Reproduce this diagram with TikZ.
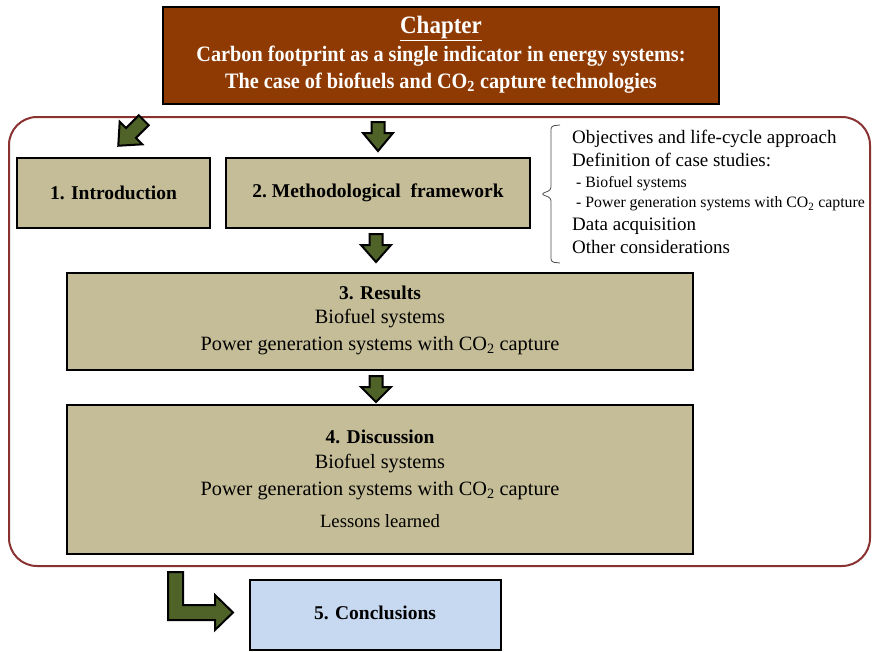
\documentclass[tikz,border=0pt]{standalone}
\usepackage{fontspec}
\setmainfont{Liberation Serif}
\newfontfamily\condfont[FakeStretch=0.92]{Liberation Serif}
\definecolor{chapbrown}{HTML}{8E3A02}
\definecolor{khaki}{HTML}{C4BD97}
\definecolor{lblue}{HTML}{C6D9F1}
\definecolor{olivearrow}{HTML}{4F6228}
\definecolor{framered}{HTML}{8A3232}
\tikzset{
  box/.style={draw=black, line width=2.2pt, fill=khaki, inner sep=0pt},
  blockarrow/.style={draw=black, line width=2pt, fill=olivearrow, line join=miter},
  txt/.style={inner sep=0pt, font=\fontsize{20.3}{23}\selectfont},
  btxt/.style={inner sep=0pt, font=\fontsize{19.5}{22}\selectfont\bfseries},
  listtxt/.style={inner sep=0pt, anchor=west, font=\fontsize{19}{21}\selectfont},
  subtxt/.style={inner sep=0pt, anchor=west, font=\fontsize{15.8}{18}\selectfont},
  titletxt/.style={inner sep=0pt, text=white, font=\fontsize{22}{25}\selectfont\condfont\bfseries}
}
\begin{document}
\begin{tikzpicture}[x=1pt,y=-1pt]
\useasboundingbox (0,0) rectangle (872,651);
% chapter box
\node[draw=black, line width=2.2pt, fill=chapbrown, minimum width=556pt, minimum height=97pt, inner sep=0pt] (chap) at (441,55.5) {};
\node[titletxt, font=\fontsize{25}{28}\selectfont\condfont\bfseries] (t1) at (441,28) {\underline{Chapter}};
\node[titletxt] (t2) at (441,56) {Carbon footprint as a single indicator in energy systems:};
\node[titletxt] (t3) at (441,83) {The case of biofuels and CO\textsubscript{2} capture technologies};
% frame
\draw[framered, line width=2pt, rounded corners=28pt] (9,117) rectangle (870,566);
\node[inner sep=0pt] (frame) at (439.5,341.5) {};
% boxes
\node[box, minimum width=193pt, minimum height=70pt] (b1) at (113.5,193) {};
\node[btxt] (l1) at (b1.center) {1. Introduction};
\node[box, minimum width=304pt, minimum height=70pt] (b2) at (378,193) {};
\node[btxt] (l2) at (b2.center) {2.\ Methodological\ \ framework};
\node[box, minimum width=626pt, minimum height=97pt] (b3) at (380,321.5) {};
\node[btxt] (l3a) at (380,293) {3. Results};
\node[txt] (l3b) at (380,319) {Biofuel systems};
\node[txt] (l3c) at (380,346) {Power generation systems with CO\textsubscript{2} capture};
\node[box, minimum width=626pt, minimum height=149pt] (b4) at (380,479.5) {};
\node[btxt] (l4a) at (380,437) {4. Discussion};
\node[txt] (l4b) at (380,464) {Biofuel systems};
\node[txt] (l4c) at (380,491) {Power generation systems with CO\textsubscript{2} capture};
\node[txt, font=\fontsize{18.7}{21}\selectfont] (l4d) at (380,521) {Lessons learned};
\node[box, fill=lblue, minimum width=251pt, minimum height=70pt] (b5) at (375.5,615) {};
\node[btxt] (l5) at (375,613) {5. Conclusions};
% brace and list
\draw[black!70, line width=0.8pt, rounded corners=3pt] (560,125) -- (551,126) -- (551,190) -- (541,194) -- (551,198) -- (551,262) -- (560,263);
\coordinate (bracetip) at (541,194);
\node[listtxt] (i1) at (572,139) {Objectives and life-cycle approach};
\node[listtxt] (i2) at (572,160) {Definition of case studies:};
\node[subtxt] (i3) at (576,184) {- Biofuel systems};
\node[subtxt] (i4) at (576,204) {- Power generation systems with CO\textsubscript{2} capture};
\node[listtxt] (i5) at (572,226) {Data acquisition};
\node[listtxt] (i6) at (572,247) {Other considerations};
% down arrows
\foreach \cx/\yt/\yh/\yb in {378/122/133/151, 376/234/245/262, 376/376/387/402}{
  \draw[blockarrow] (\cx-6.5,\yt) -- (\cx+6.5,\yt) -- (\cx+6.5,\yh) -- (\cx+15,\yh) -- (\cx,\yb) -- (\cx-15,\yh) -- (\cx-6.5,\yh) -- cycle;
}
% diagonal arrow
\begin{scope}[shift={(131,133)}, rotate=-45]
  \draw[blockarrow] (-7,-18) -- (7,-18) -- (7,0) -- (16,0) -- (0,18) -- (-16,0) -- (-7,0) -- cycle;
\end{scope}
% L arrow
\draw[blockarrow] (168,572) -- (183,572) -- (183,605) -- (215,605) -- (215,595) -- (233,612.5) -- (215,630) -- (215,620) -- (168,620) -- cycle;
\end{tikzpicture}
\end{document}
